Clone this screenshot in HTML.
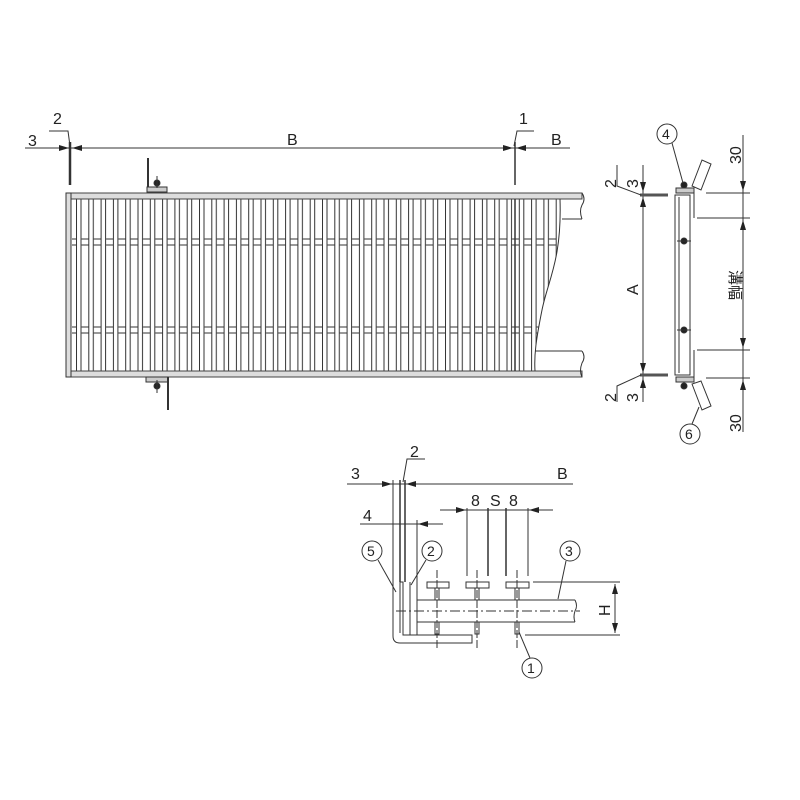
<!DOCTYPE html>
<html><head><meta charset="utf-8"><style>
html,body{margin:0;padding:0;background:#fff}
svg{display:block}
text{font-family:"Liberation Sans","Noto Sans CJK JP",sans-serif;fill:#222}
</style></head><body>
<svg width="800" height="800" viewBox="0 0 800 800" xmlns="http://www.w3.org/2000/svg">
<defs>
<marker id="ar" markerWidth="10" markerHeight="6" refX="10" refY="3" orient="auto" markerUnits="userSpaceOnUse"><path d="M0,0 L10,3 L0,6 z" fill="#222"/></marker>
<pattern id="bp" patternUnits="userSpaceOnUse" x="76" y="0" width="12.3" height="800">
<line x1="0.5" y1="0" x2="0.5" y2="800" stroke="#333" stroke-width="1"/>
<line x1="5" y1="0" x2="5" y2="800" stroke="#333" stroke-width="1"/>
<line x1="5.5" y1="239" x2="12.3" y2="239" stroke="#333" stroke-width="1"/>
<line x1="5.5" y1="245" x2="12.3" y2="245" stroke="#333" stroke-width="1"/>
<line x1="5.5" y1="327" x2="12.3" y2="327" stroke="#333" stroke-width="1"/>
<line x1="5.5" y1="333" x2="12.3" y2="333" stroke="#333" stroke-width="1"/>
</pattern>
<clipPath id="cp"><path d="M72,199 L560,199 C562,260 548,280 542,310 C536,340 534,355 535,371 L72,371 z"/></clipPath>
</defs>
<rect x="72" y="199" width="490" height="172" fill="url(#bp)" clip-path="url(#cp)"/>
<g stroke="#333" fill="none" stroke-width="1">
<line x1="25" y1="148" x2="570" y2="148"/>
<line x1="50" y1="148" x2="69" y2="148" marker-end="url(#ar)"/>
<line x1="90" y1="148" x2="72" y2="148" marker-end="url(#ar)"/>
<line x1="495" y1="148" x2="513" y2="148" marker-end="url(#ar)"/>
<line x1="535" y1="148" x2="516" y2="148" marker-end="url(#ar)"/>
<line x1="70" y1="142" x2="70" y2="185" stroke-width="2.5"/>
<line x1="515" y1="142" x2="515" y2="185" stroke-width="1.5"/>
<polyline points="49,131 68,131 70,146"/>
<polyline points="534,131 517,131 514,146"/>
<rect x="66" y="193" width="516" height="6" stroke="#444" fill="#ddd"/>
<rect x="66" y="371" width="516" height="6" stroke="#444" fill="#ddd"/>
<rect x="66" y="193" width="5" height="184" fill="#ddd"/>
<line x1="515" y1="199" x2="515" y2="371" stroke-width="1.5"/>
<path d="M582,193 q4,6 0,12 q-3,6 0,14 M562,219 L582,219"/>
<path d="M582,351 q4,6 0,12 q-3,8 0,14 M535,351 L582,351"/>
<path d="M560,199 C562,260 548,280 542,310 C536,340 534,355 535,371"/>
<line x1="148" y1="158" x2="148" y2="190" stroke-width="2"/>
<rect x="147" y="187" width="20" height="5" fill="#ccc"/>
<circle cx="157" cy="183" r="3" fill="#222"/>
<line x1="157" y1="176" x2="157" y2="188"/>
<rect x="146" y="377" width="22" height="5" fill="#ccc"/>
<line x1="168" y1="377" x2="168" y2="410" stroke-width="2"/>
<circle cx="157" cy="386" r="3" fill="#222"/>
<line x1="157" y1="380" x2="157" y2="393"/>
<line x1="643" y1="165" x2="643" y2="402"/>
<line x1="643" y1="205" x2="643" y2="197" marker-end="url(#ar)"/>
<line x1="643" y1="365" x2="643" y2="373" marker-end="url(#ar)"/>
<line x1="643" y1="178" x2="643" y2="192" marker-end="url(#ar)"/>
<line x1="643" y1="392" x2="643" y2="378" marker-end="url(#ar)"/>
<line x1="640" y1="195" x2="668" y2="195" stroke-width="3" stroke="#555"/>
<line x1="640" y1="375" x2="668" y2="375" stroke-width="3" stroke="#555"/>
<polyline points="617,165 617,186 641,195"/>
<polyline points="617,402 617,386 641,375"/>
<rect x="675" y="195" width="15" height="180" fill="#fff"/>
<line x1="679" y1="197" x2="679" y2="373"/>
<line x1="690" y1="200" x2="690" y2="372"/>
<line x1="694" y1="193" x2="694" y2="218"/>
<line x1="694" y1="350" x2="694" y2="377"/>
<rect x="676" y="188" width="18" height="5" fill="#ccc"/>
<rect x="676" y="377" width="18" height="5" fill="#ccc"/>
<circle cx="684" cy="185" r="3" fill="#222"/>
<circle cx="684" cy="386" r="3" fill="#222"/>
<circle cx="684" cy="241" r="3" fill="#222"/>
<circle cx="684" cy="330" r="3" fill="#222"/>
<line x1="677" y1="241" x2="691" y2="241"/><line x1="677" y1="330" x2="691" y2="330"/>
<path d="M692,186 L702,160 L711,164 L701,190 z"/>
<path d="M692,384 L702,410 L711,406 L701,381 z"/>
<line x1="743" y1="135" x2="743" y2="432"/>
<line x1="706" y1="193" x2="750" y2="193"/>
<line x1="697" y1="218" x2="750" y2="218"/>
<line x1="697" y1="350" x2="750" y2="350"/>
<line x1="706" y1="378" x2="750" y2="378"/>
<line x1="743" y1="180" x2="743" y2="191" marker-end="url(#ar)"/>
<line x1="743" y1="230" x2="743" y2="220" marker-end="url(#ar)"/>
<line x1="743" y1="338" x2="743" y2="348" marker-end="url(#ar)"/>
<line x1="743" y1="392" x2="743" y2="380" marker-end="url(#ar)"/>
<circle cx="667" cy="134" r="10"/>
<line x1="672" y1="143" x2="683" y2="183"/>
<circle cx="690" cy="434" r="10"/>
<line x1="692" y1="424" x2="699" y2="407"/>
<line x1="347" y1="484" x2="573" y2="484"/>
<line x1="378" y1="484" x2="392" y2="484" marker-end="url(#ar)"/>
<line x1="420" y1="484" x2="406" y2="484" marker-end="url(#ar)"/>
<polyline points="425,459 407,459 403,482"/>
<line x1="360" y1="524" x2="443" y2="524"/>
<line x1="440" y1="524" x2="418" y2="524" marker-end="url(#ar)"/>
<line x1="440" y1="510" x2="553" y2="510"/>
<line x1="452" y1="510" x2="466" y2="510" marker-end="url(#ar)"/>
<line x1="553" y1="510" x2="529" y2="510" marker-end="url(#ar)"/>
<line x1="393" y1="480" x2="393" y2="582"/>
<line x1="400" y1="480" x2="400" y2="582" stroke-width="1.5"/>
<line x1="405" y1="480" x2="405" y2="582" stroke-width="1.5"/>
<line x1="417" y1="520" x2="417" y2="635"/>
<line x1="467" y1="508" x2="467" y2="576"/>
<line x1="488" y1="508" x2="488" y2="576" stroke-width="1.5"/>
<line x1="506" y1="508" x2="506" y2="576" stroke-width="1.5"/>
<line x1="528" y1="508" x2="528" y2="576"/>
<path d="M393,582 V636 q0,7 7,7 H472 V635 H403 V582 H400 M410,582 V635"/>
<line x1="400" y1="582" x2="400" y2="633"/>
<rect x="427" y="582" width="22" height="6"/>
<rect x="466" y="582" width="23" height="6"/>
<rect x="506" y="582" width="23" height="6"/>
<line x1="417" y1="600" x2="575" y2="600"/>
<line x1="417" y1="622" x2="575" y2="622"/>
<path d="M575,600 q3,6 0,11 q-2,6 0,11"/>
<line x1="396" y1="611" x2="580" y2="611" stroke-dasharray="10,3,2,3"/>
<line x1="437" y1="570" x2="437" y2="648" stroke-dasharray="8,2"/>
<line x1="477" y1="570" x2="477" y2="648" stroke-dasharray="8,2"/>
<line x1="517" y1="570" x2="517" y2="648" stroke-dasharray="8,2"/>
<rect x="435" y="588" width="4" height="12"/><rect x="475" y="588" width="4" height="12"/><rect x="515" y="588" width="4" height="12"/>
<rect x="435" y="622" width="4" height="12"/><rect x="475" y="622" width="4" height="12"/><rect x="515" y="622" width="4" height="12"/>
<line x1="533" y1="582" x2="620" y2="582"/>
<line x1="525" y1="635" x2="620" y2="635"/>
<line x1="615" y1="594" x2="615" y2="584" marker-end="url(#ar)"/>
<line x1="615" y1="622" x2="615" y2="633" marker-end="url(#ar)"/>
<line x1="615" y1="594" x2="615" y2="622"/>
<circle cx="372" cy="551" r="10"/><line x1="378" y1="560" x2="396" y2="592"/>
<circle cx="432" cy="551" r="10"/><line x1="426" y1="560" x2="411" y2="585"/>
<circle cx="570" cy="551" r="10"/><line x1="566" y1="561" x2="558" y2="599"/>
<circle cx="532" cy="668" r="10"/><line x1="530" y1="658" x2="519" y2="632"/>
</g>
<g font-size="16">
<text x="28" y="146">3</text><text x="53" y="124">2</text><text x="287" y="145">B</text>
<text x="519" y="124">1</text><text x="551" y="145">B</text>
<text x="662" y="139" font-size="14">4</text><text x="685" y="439" font-size="14">6</text>
<text x="367" y="556" font-size="14">5</text><text x="427" y="556" font-size="14">2</text>
<text x="565" y="556" font-size="14">3</text><text x="527" y="673" font-size="14">1</text>
<text x="351" y="479">3</text><text x="410" y="457">2</text><text x="557" y="479">B</text>
<text x="363" y="521">4</text><text x="471" y="506">8</text><text x="490" y="506">S</text><text x="509" y="506">8</text>
<text transform="translate(610,616) rotate(-90)">H</text>
<text transform="translate(638,295) rotate(-90)">A</text>
<text transform="translate(616,188) rotate(-90)">2</text><text transform="translate(638,188) rotate(-90)">3</text>
<text transform="translate(616,402) rotate(-90)">2</text><text transform="translate(638,402) rotate(-90)">3</text>
<text transform="translate(741,164) rotate(-90)">30</text>
<text transform="translate(741,432) rotate(-90)">30</text>
<text transform="translate(730,270) rotate(90)" font-size="15">溝幅</text>
</g>
</svg>
</body></html>
